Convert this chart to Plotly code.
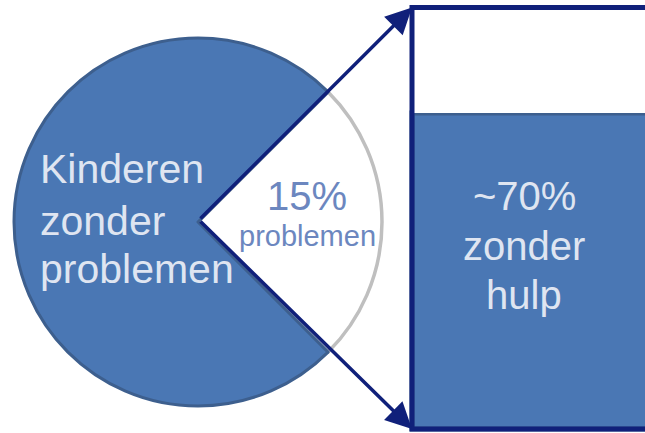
import plotly.graph_objects as go

# ---- data ----
pie_labels = ["problemen", "zonder problemen"]
pie_values = [25, 75]          # visual share of the wedge in the picture
bar_labels = ["zonder hulp", "met hulp"]
bar_values = [75, 25]          # blue bottom part, white top part

W, H = 645, 433
BLUE = "#4a77b4"
NAVY = "#10207a"
OUTLINE = "#3d5f8e"
GRAY = "#bfbfbf"
LIGHT = "#dfe5f1"
MID = "#6c87bf"
FONT = "Liberation Sans, Arial, sans-serif"

def xp(px):
    return px / W

def yp(py):
    return 1 - py / H

# pie geometry (pixels)
cx, cy, R = 198, 222, 184

# bar geometry: y value 0 at pixel 429, 100 at pixel 7.5
y0_px, y100_px = 429.0, 7.5
ppu = (y0_px - y100_px) / 100.0
def yv(py):
    return (y0_px - py) / ppu

fig = go.Figure()

fig.add_trace(go.Pie(
    labels=pie_labels, values=pie_values, sort=False,
    direction="clockwise", rotation=45,
    marker=dict(colors=["#ffffff", BLUE],
                line=dict(color=[GRAY, OUTLINE], width=[3.5, 3])),
    textinfo="none", hoverinfo="skip", showlegend=False,
    domain=dict(x=[xp(cx - R), xp(cx + R)], y=[yp(cy + R), yp(cy - R)]),
))

bar_left = 412
bar_w = 420
bx = bar_left + bar_w / 2
fig.add_trace(go.Bar(x=[bx], y=[bar_values[0]], base=[0], width=[bar_w],
                     marker=dict(color=BLUE, line=dict(color=OUTLINE, width=5)),
                     hoverinfo="skip", showlegend=False, name=bar_labels[0]))
fig.add_trace(go.Bar(x=[bx], y=[bar_values[1]], base=[bar_values[0]], width=[bar_w],
                     marker=dict(color="#ffffff", line=dict(width=0)),
                     hoverinfo="skip", showlegend=False, name=bar_labels[1]))
fig.add_trace(go.Bar(x=[bx], y=[sum(bar_values)], base=[0], width=[bar_w],
                     marker=dict(color="rgba(0,0,0,0)", line=dict(color=NAVY, width=5)),
                     hoverinfo="skip", showlegend=False))

# arrows from pie centre to bar corners
for ty in [sum(bar_values), 0]:
    fig.add_annotation(x=bar_left, y=ty, xref="x", yref="y",
                       ax=cx + 1, ay=yv(cy - 2), axref="x", ayref="y",
                       showarrow=True, arrowhead=2, arrowsize=1.5, arrowwidth=3.5,
                       arrowcolor=NAVY, standoff=0, text="")

def label(text, x, baseline, size, color, anchor):
    fig.add_annotation(x=xp(x), y=yp(baseline - 0.33 * size), xref="paper", yref="paper",
                       text=text, showarrow=False, xanchor=anchor, yanchor="middle",
                       font=dict(family=FONT, size=size, color=color))

label("Kinderen", 38, 183, 41, LIGHT, "left")
label("zonder", 38, 235, 41, LIGHT, "left")
label("problemen", 38, 283, 41, LIGHT, "left")

label("15%", 307, 209, 40, MID, "center")
label("problemen", 307, 246, 29, MID, "center")

label("~70%", 524, 209, 40, LIGHT, "center")
label("zonder", 524, 259, 40, LIGHT, "center")
label("hulp", 524, 308, 40, LIGHT, "center")

fig.update_layout(
    width=W, height=H, margin=dict(l=0, r=0, t=0, b=0),
    paper_bgcolor="white", plot_bgcolor="rgba(0,0,0,0)",
    barmode="overlay",
    xaxis=dict(range=[0, W], domain=[0, 1], visible=False, fixedrange=True),
    yaxis=dict(range=[yv(H), yv(0)], domain=[0, 1], visible=False, fixedrange=True),
)

fig.write_html("out.html", config={"displayModeBar": False},
               post_script="document.body.style.margin='0';document.body.style.overflow='hidden';")
